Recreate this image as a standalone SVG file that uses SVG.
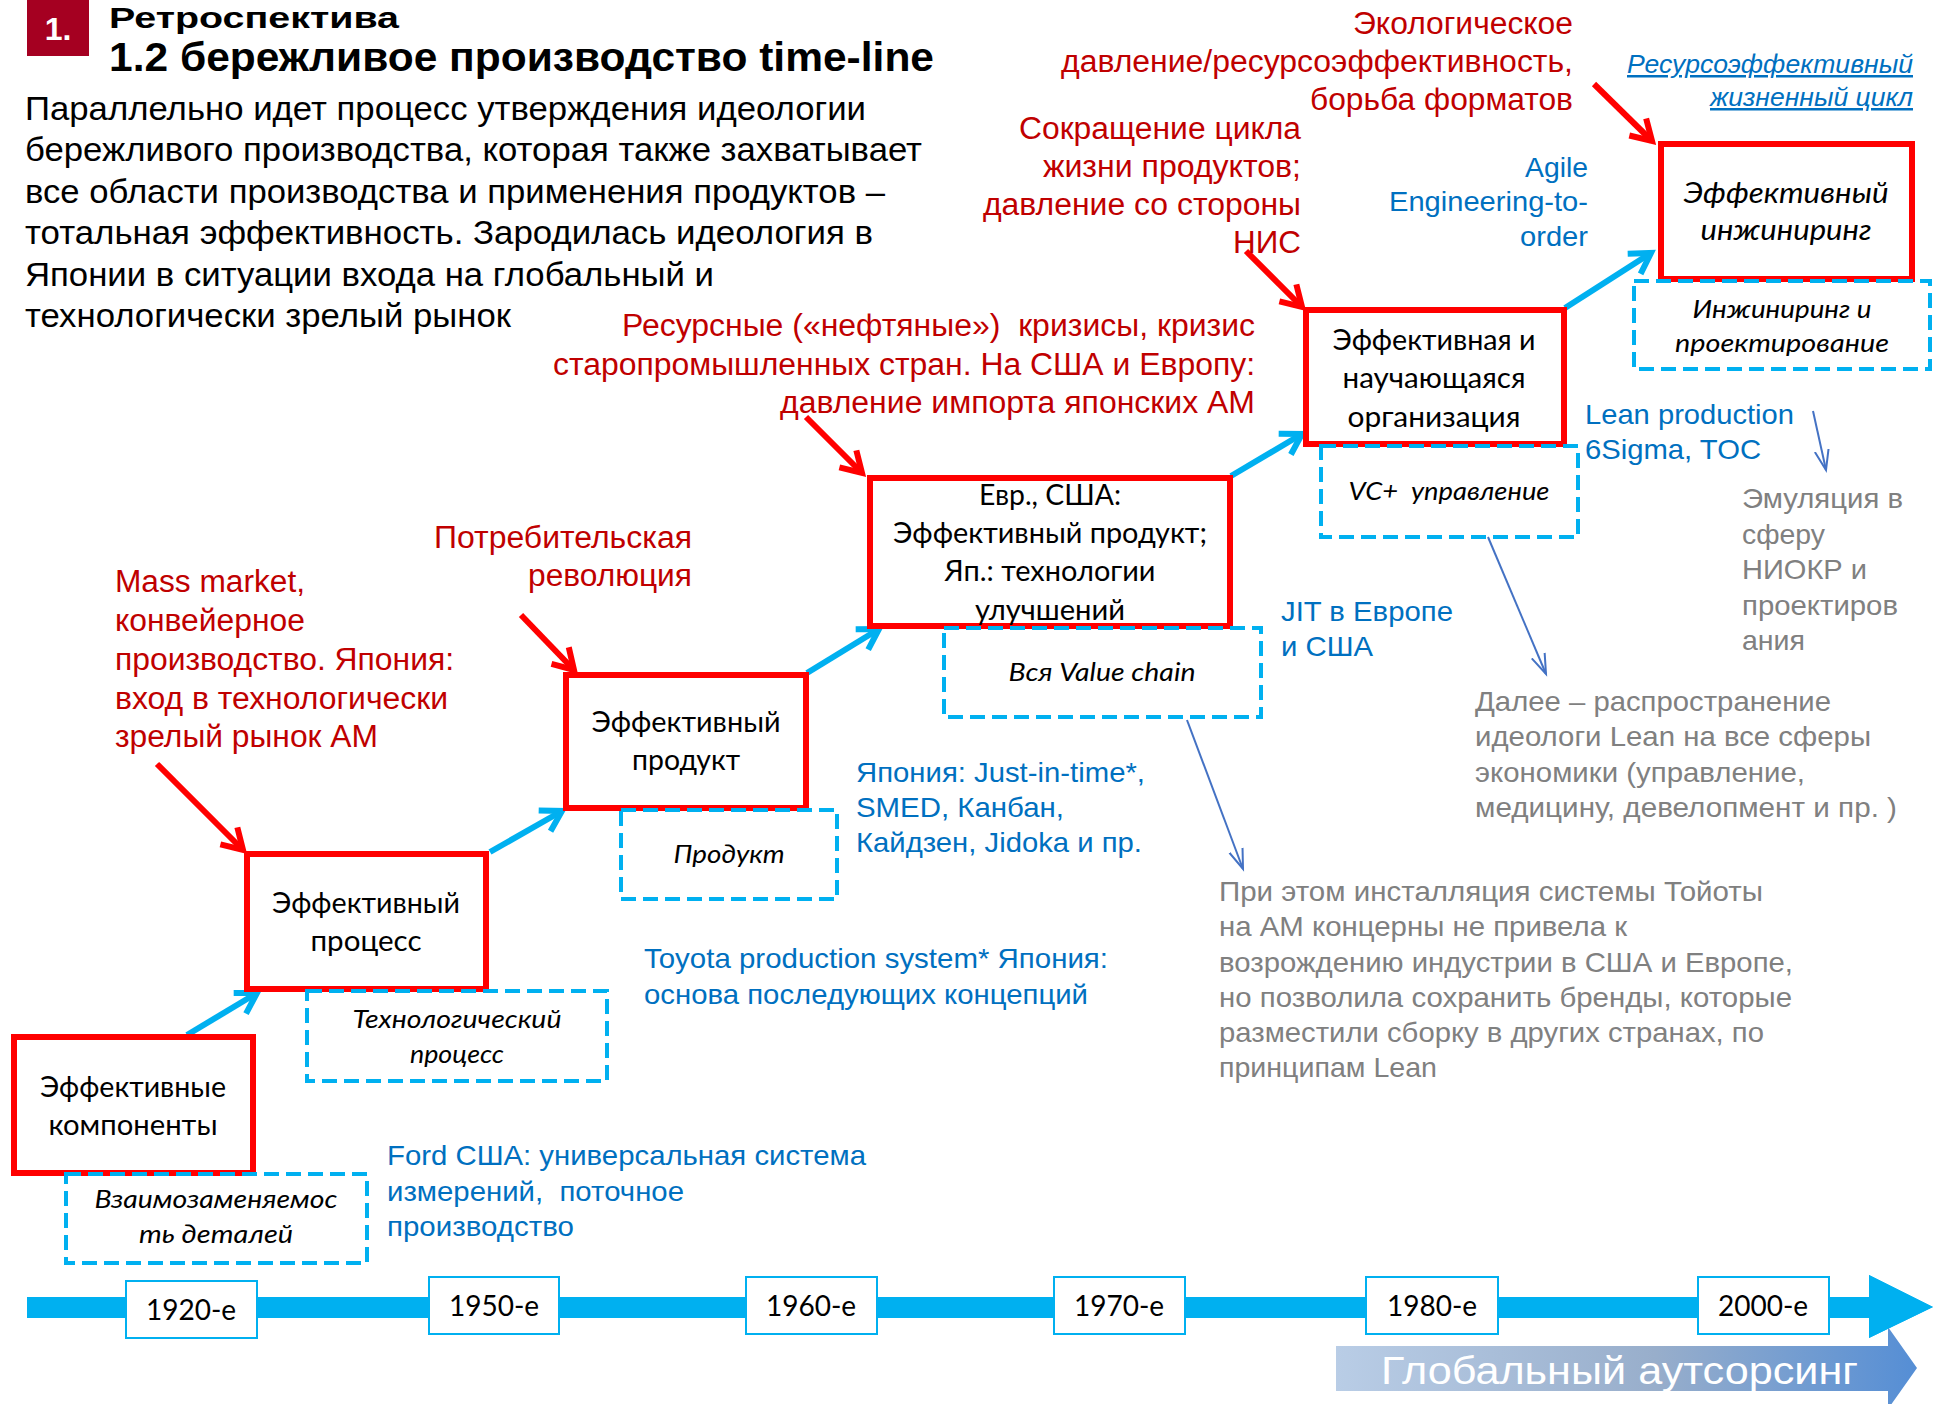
<svg xmlns="http://www.w3.org/2000/svg" width="1939" height="1404" viewBox="0 0 1939 1404">
<style>
.bg{fill:#ffffff}
.rbox{fill:#ffffff;stroke:#ff0000;stroke-width:6}
.dbox{fill:none;stroke:#00b0f0;stroke-width:4;stroke-dasharray:15 7}
.ybox{fill:#ffffff;stroke:#00b0f0;stroke-width:2}
.ar{font-family:"Liberation Sans",Arial,sans-serif}
.red{fill:#c00000;font-size:31px}
.blue{fill:#0070c0;font-size:28px}
.gray{fill:#808080;font-size:28px}
.par{fill:#000000;font-size:34px}
.node{font-family:Lato,"Liberation Sans",sans-serif;fill:#000000;font-size:28px;text-anchor:middle}
.it{font-style:italic}
.dtxt{font-family:Lato,"Liberation Sans",sans-serif;fill:#000000;font-size:25px;font-style:italic;text-anchor:middle}
.year{font-family:Lato,"Liberation Sans",sans-serif;fill:#000000;font-size:28px;text-anchor:middle}
.end{text-anchor:end}
.rarrow{stroke:#ff0000;stroke-width:6;fill:none}
.barrow{stroke:#00b0f0;stroke-width:6;fill:none}
.tarrow{stroke:#4472c4;stroke-width:2;fill:none}
</style>
<defs>
<marker id="mRed" markerUnits="userSpaceOnUse" markerWidth="50" markerHeight="50" viewBox="-25 -25 50 50" refX="0" refY="0" orient="auto">
<path d="M-20,-12 L0,0 L-20,12" fill="none" stroke="#ff0000" stroke-width="6" stroke-linejoin="miter"/>
</marker>
<marker id="mBlue" markerUnits="userSpaceOnUse" markerWidth="50" markerHeight="50" viewBox="-25 -25 50 50" refX="0" refY="0" orient="auto">
<path d="M-20,-12 L0,0 L-20,12" fill="none" stroke="#00b0f0" stroke-width="6" stroke-linejoin="miter"/>
</marker>
<marker id="mThin" markerUnits="userSpaceOnUse" markerWidth="40" markerHeight="40" viewBox="-20 -20 40 40" refX="0" refY="0" orient="auto">
<path d="M-20,-7 L0,0 L-20,7" fill="none" stroke="#4472c4" stroke-width="2"/>
</marker>
<linearGradient id="gOut" x1="0" y1="0" x2="1" y2="0">
<stop offset="0" stop-color="#b9cde6"/>
<stop offset="0.55" stop-color="#98aecb"/>
<stop offset="1" stop-color="#558ed5"/>
</linearGradient>
</defs>
<rect class="bg" x="0" y="0" width="1939" height="1404"/>

<g id="header">
<rect x="27" y="0" width="62" height="56" fill="#a50021"/>
<text class="ar" x="58" y="40" fill="#ffffff" font-size="32" font-weight="bold" text-anchor="middle">1.</text>
<text class="ar" x="109" y="28" fill="#000000" font-size="30" font-weight="bold" textLength="290" lengthAdjust="spacingAndGlyphs">Ретроспектива</text>
<text class="ar" x="109" y="71" fill="#000000" font-size="40" font-weight="bold" textLength="825" lengthAdjust="spacingAndGlyphs">1.2 бережливое производство time-line</text>
</g>

<g id="intro" class="ar par">
<text x="25" y="120" textLength="841" lengthAdjust="spacingAndGlyphs">Параллельно идет процесс утверждения идеологии</text>
<text x="25" y="161" textLength="897" lengthAdjust="spacingAndGlyphs">бережливого производства, которая также захватывает</text>
<text x="25" y="203" textLength="860" lengthAdjust="spacingAndGlyphs">все области производства и применения продуктов –</text>
<text x="25" y="244" textLength="848" lengthAdjust="spacingAndGlyphs">тотальная эффективность. Зародилась идеология в</text>
<text x="25" y="286" textLength="689" lengthAdjust="spacingAndGlyphs">Японии в ситуации входа на глобальный и</text>
<text x="25" y="327" textLength="486" lengthAdjust="spacingAndGlyphs">технологически зрелый рынок</text>
</g>

<g id="timeline">
<rect x="27" y="1297" width="1845" height="21" fill="#00b0f0"/>
<polygon points="1869,1275 1933,1307 1869,1338" fill="#00b0f0"/>
</g>

<g id="outsourcing">
<polygon points="1336,1346 1888,1346 1888,1327 1917,1368 1888,1409 1888,1391 1336,1391" fill="url(#gOut)"/>
<polygon points="1869,1275 1933,1307 1869,1338" fill="#00b0f0"/>
<text class="ar" x="1381" y="1384" fill="#ffffff" font-size="38" textLength="477" lengthAdjust="spacingAndGlyphs">Глобальный аутсорсинг</text>
</g>

<g id="year-1920"><rect class="ybox" x="126" y="1281" width="131" height="57"/><text class="year" x="191" y="1320">1920-е</text></g>
<g id="year-1950"><rect class="ybox" x="429" y="1277" width="130" height="57"/><text class="year" x="494" y="1316">1950-е</text></g>
<g id="year-1960"><rect class="ybox" x="746" y="1277" width="131" height="57"/><text class="year" x="811" y="1316">1960-е</text></g>
<g id="year-1970"><rect class="ybox" x="1054" y="1277" width="131" height="57"/><text class="year" x="1119" y="1316">1970-е</text></g>
<g id="year-1980"><rect class="ybox" x="1366" y="1277" width="132" height="57"/><text class="year" x="1432" y="1316">1980-е</text></g>
<g id="year-2000"><rect class="ybox" x="1698" y="1277" width="131" height="57"/><text class="year" x="1763" y="1316">2000-е</text></g>

<g id="connectors">
<line class="barrow" x1="187" y1="1035" x2="257" y2="993" marker-end="url(#mBlue)"/>
<line class="barrow" x1="490" y1="852" x2="562" y2="811" marker-end="url(#mBlue)"/>
<line class="barrow" x1="807" y1="673" x2="879" y2="629" marker-end="url(#mBlue)"/>
<line class="barrow" x1="1231" y1="476" x2="1302" y2="434" marker-end="url(#mBlue)"/>
<line class="barrow" x1="1565" y1="308" x2="1651" y2="253" marker-end="url(#mBlue)"/>
<line class="rarrow" x1="157" y1="764" x2="243" y2="850" marker-end="url(#mRed)"/>
<line class="rarrow" x1="521" y1="615" x2="574" y2="670" marker-end="url(#mRed)"/>
<line class="rarrow" x1="806" y1="417" x2="862" y2="473" marker-end="url(#mRed)"/>
<line class="rarrow" x1="1246" y1="251" x2="1302" y2="307" marker-end="url(#mRed)"/>
<line class="rarrow" x1="1594" y1="84" x2="1652" y2="141" marker-end="url(#mRed)"/>
<line class="tarrow" x1="1187" y1="720" x2="1243" y2="869" marker-end="url(#mThin)"/>
<line class="tarrow" x1="1488" y1="537" x2="1546" y2="674" marker-end="url(#mThin)"/>
<line class="tarrow" x1="1813" y1="411" x2="1826" y2="470" marker-end="url(#mThin)"/>
</g>

<g id="node-components">
<rect class="rbox" x="14" y="1037" width="239" height="136"/>
<text class="node" x="133" y="1097" textLength="186" lengthAdjust="spacingAndGlyphs">Эффективные</text>
<text class="node" x="133" y="1135" textLength="169" lengthAdjust="spacingAndGlyphs">компоненты</text>
</g>
<g id="note-interchange">
<rect class="dbox" x="66" y="1174" width="301" height="89"/>
<text class="dtxt" x="216" y="1208" textLength="243" lengthAdjust="spacingAndGlyphs">Взаимозаменяемос</text>
<text class="dtxt" x="216" y="1243" textLength="154" lengthAdjust="spacingAndGlyphs">ть деталей</text>
</g>

<g id="node-process">
<rect class="rbox" x="247" y="854" width="239" height="135"/>
<text class="node" x="366" y="913" textLength="188" lengthAdjust="spacingAndGlyphs">Эффективный</text>
<text class="node" x="366" y="951" textLength="111" lengthAdjust="spacingAndGlyphs">процесс</text>
</g>
<g id="note-techprocess">
<rect class="dbox" x="307" y="991" width="300" height="90"/>
<text class="dtxt" x="457" y="1028" textLength="209" lengthAdjust="spacingAndGlyphs">Технологический</text>
<text class="dtxt" x="457" y="1063" textLength="94" lengthAdjust="spacingAndGlyphs">процесс</text>
</g>

<g id="node-product">
<rect class="rbox" x="566" y="675" width="240" height="133"/>
<text class="node" x="686" y="732" textLength="189" lengthAdjust="spacingAndGlyphs">Эффективный</text>
<text class="node" x="686" y="770" textLength="108" lengthAdjust="spacingAndGlyphs">продукт</text>
</g>
<g id="note-product">
<rect class="dbox" x="621" y="810" width="216" height="89"/>
<text class="dtxt" x="729" y="863" textLength="111" lengthAdjust="spacingAndGlyphs">Продукт</text>
</g>

<g id="node-eur-usa">
<rect class="rbox" x="870" y="478" width="360" height="148"/>
<text class="node" x="1050" y="505" textLength="142" lengthAdjust="spacingAndGlyphs">Евр., США:</text>
<text class="node" x="1050" y="543" textLength="314" lengthAdjust="spacingAndGlyphs">Эффективный продукт;</text>
<text class="node" x="1050" y="581" textLength="211" lengthAdjust="spacingAndGlyphs">Яп.: технологии</text>
<text class="node" x="1050" y="620" textLength="150" lengthAdjust="spacingAndGlyphs">улучшений</text>
</g>
<g id="note-valuechain">
<rect class="dbox" x="944" y="628" width="317" height="89"/>
<text class="dtxt" x="1102" y="681" textLength="187" lengthAdjust="spacingAndGlyphs">Вся Value chain</text>
</g>

<g id="node-learning-org">
<rect class="rbox" x="1306" y="310" width="258" height="134"/>
<text class="node" x="1434" y="350" textLength="203" lengthAdjust="spacingAndGlyphs">Эффективная и</text>
<text class="node" x="1434" y="388" textLength="183" lengthAdjust="spacingAndGlyphs">научающаяся</text>
<text class="node" x="1434" y="427" textLength="173" lengthAdjust="spacingAndGlyphs">организация</text>
</g>
<g id="note-vc">
<rect class="dbox" x="1321" y="446" width="257" height="91"/>
<text class="dtxt" x="1449" y="500" textLength="201" lengthAdjust="spacingAndGlyphs">VC+&#160; управление</text>
</g>

<g id="node-engineering">
<rect class="rbox" x="1661" y="144" width="251" height="135"/>
<text class="node it" x="1786" y="203" textLength="205" lengthAdjust="spacingAndGlyphs">Эффективный</text>
<text class="node it" x="1786" y="240" textLength="171" lengthAdjust="spacingAndGlyphs">инжиниринг</text>
</g>
<g id="note-engineering">
<rect class="dbox" x="1634" y="281" width="296" height="88"/>
<text class="dtxt" x="1782" y="318" textLength="179" lengthAdjust="spacingAndGlyphs">Инжиниринг и</text>
<text class="dtxt" x="1782" y="352" textLength="214" lengthAdjust="spacingAndGlyphs">проектирование</text>
</g>

<g id="red-labels" class="ar red">
<text class="end" x="1573" y="34" textLength="220" lengthAdjust="spacingAndGlyphs">Экологическое</text>
<text class="end" x="1573" y="72" textLength="512" lengthAdjust="spacingAndGlyphs">давление/ресурсоэффективность,</text>
<text class="end" x="1573" y="110" textLength="263" lengthAdjust="spacingAndGlyphs">борьба форматов</text>
<text class="end" x="1301" y="139" textLength="282" lengthAdjust="spacingAndGlyphs">Сокращение цикла</text>
<text class="end" x="1301" y="177" textLength="258" lengthAdjust="spacingAndGlyphs">жизни продуктов;</text>
<text class="end" x="1301" y="215" textLength="318" lengthAdjust="spacingAndGlyphs">давление со стороны</text>
<text class="end" x="1301" y="253" textLength="68" lengthAdjust="spacingAndGlyphs">НИС</text>
<text class="end" x="1255" y="336" textLength="633" lengthAdjust="spacingAndGlyphs">Ресурсные («нефтяные»)&#160; кризисы, кризис</text>
<text class="end" x="1255" y="375" textLength="702" lengthAdjust="spacingAndGlyphs">старопромышленных стран. На США и Европу:</text>
<text class="end" x="1255" y="413" textLength="475" lengthAdjust="spacingAndGlyphs">давление импорта японских АМ</text>
<text class="end" x="692" y="548" textLength="258" lengthAdjust="spacingAndGlyphs">Потребительская</text>
<text class="end" x="692" y="586" textLength="164" lengthAdjust="spacingAndGlyphs">революция</text>
<text x="115" y="592" textLength="190" lengthAdjust="spacingAndGlyphs">Mass market,</text>
<text x="115" y="631" textLength="190" lengthAdjust="spacingAndGlyphs">конвейерное</text>
<text x="115" y="670" textLength="339" lengthAdjust="spacingAndGlyphs">производство. Япония:</text>
<text x="115" y="709" textLength="333" lengthAdjust="spacingAndGlyphs">вход в технологически</text>
<text x="115" y="747" textLength="263" lengthAdjust="spacingAndGlyphs">зрелый рынок АМ</text>
</g>

<g id="blue-labels" class="ar blue">
<text class="end" x="1913" y="73" font-size="25" font-style="italic" text-decoration="underline" textLength="286" lengthAdjust="spacingAndGlyphs">Ресурсоэффективный</text>
<text class="end" x="1913" y="106" font-size="25" font-style="italic" text-decoration="underline" textLength="203" lengthAdjust="spacingAndGlyphs">жизненный цикл</text>
<text class="end" x="1588" y="177" textLength="63" lengthAdjust="spacingAndGlyphs">Agile</text>
<text class="end" x="1588" y="211" textLength="199" lengthAdjust="spacingAndGlyphs">Engineering-to-</text>
<text class="end" x="1588" y="246" textLength="68" lengthAdjust="spacingAndGlyphs">order</text>
<text x="1585" y="424" textLength="209" lengthAdjust="spacingAndGlyphs">Lean production</text>
<text x="1585" y="459" textLength="176" lengthAdjust="spacingAndGlyphs">6Sigma, TOC</text>
<text x="1281" y="621" textLength="172" lengthAdjust="spacingAndGlyphs">JIT в Европе</text>
<text x="1281" y="656" textLength="92" lengthAdjust="spacingAndGlyphs">и США</text>
<text x="856" y="782" textLength="289" lengthAdjust="spacingAndGlyphs">Япония: Just-in-time*,</text>
<text x="856" y="817" textLength="208" lengthAdjust="spacingAndGlyphs">SMED, Канбан,</text>
<text x="856" y="852" textLength="286" lengthAdjust="spacingAndGlyphs">Кайдзен, Jidoka и пр.</text>
<text x="644" y="968" textLength="464" lengthAdjust="spacingAndGlyphs">Toyota production system* Япония:</text>
<text x="644" y="1004" textLength="444" lengthAdjust="spacingAndGlyphs">основа последующих концепций</text>
<text x="387" y="1165" textLength="479" lengthAdjust="spacingAndGlyphs">Ford США: универсальная система</text>
<text x="387" y="1201" textLength="297" lengthAdjust="spacingAndGlyphs">измерений,&#160; поточное</text>
<text x="387" y="1236" textLength="187" lengthAdjust="spacingAndGlyphs">производство</text>
</g>

<g id="gray-labels" class="ar gray">
<text x="1742" y="508" textLength="161" lengthAdjust="spacingAndGlyphs">Эмуляция в</text>
<text x="1742" y="544" textLength="83" lengthAdjust="spacingAndGlyphs">сферу</text>
<text x="1742" y="579" textLength="125" lengthAdjust="spacingAndGlyphs">НИОКР и</text>
<text x="1742" y="615" textLength="156" lengthAdjust="spacingAndGlyphs">проектиров</text>
<text x="1742" y="650" textLength="63" lengthAdjust="spacingAndGlyphs">ания</text>
<text x="1475" y="711" textLength="356" lengthAdjust="spacingAndGlyphs">Далее – распространение</text>
<text x="1475" y="746" textLength="396" lengthAdjust="spacingAndGlyphs">идеологи Lean на все сферы</text>
<text x="1475" y="782" textLength="330" lengthAdjust="spacingAndGlyphs">экономики (управление,</text>
<text x="1475" y="817" textLength="422" lengthAdjust="spacingAndGlyphs">медицину, девелопмент и пр. )</text>
<text x="1219" y="901" textLength="544" lengthAdjust="spacingAndGlyphs">При этом инсталляция системы Тойоты</text>
<text x="1219" y="936" textLength="408" lengthAdjust="spacingAndGlyphs">на АМ концерны не привела к</text>
<text x="1219" y="972" textLength="574" lengthAdjust="spacingAndGlyphs">возрождению индустрии в США и Европе,</text>
<text x="1219" y="1007" textLength="573" lengthAdjust="spacingAndGlyphs">но позволила сохранить бренды, которые</text>
<text x="1219" y="1042" textLength="545" lengthAdjust="spacingAndGlyphs">разместили сборку в других странах, по</text>
<text x="1219" y="1077" textLength="218" lengthAdjust="spacingAndGlyphs">принципам Lean</text>
</g>
</svg>
